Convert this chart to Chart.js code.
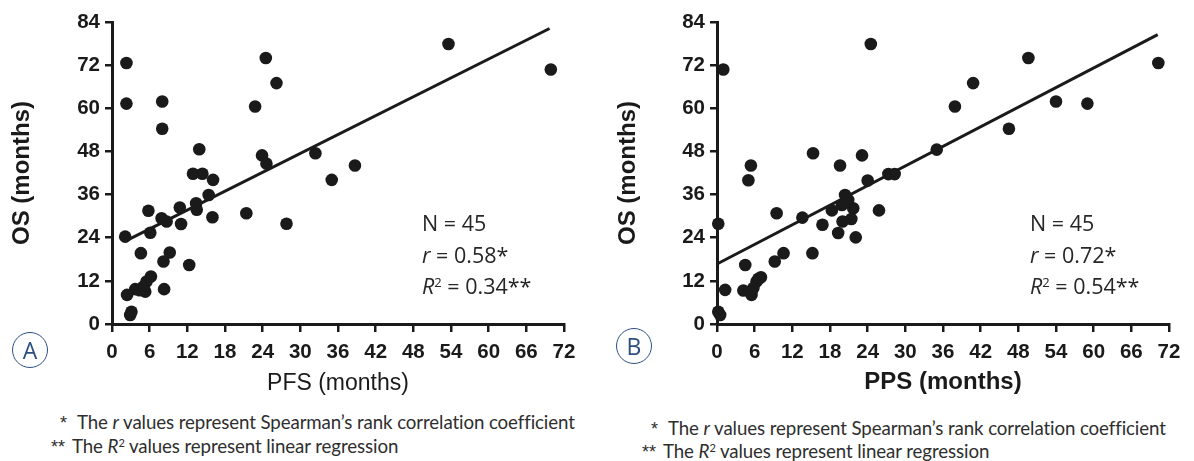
<!DOCTYPE html>
<html><head><meta charset="utf-8">
<script src="https://cdn.jsdelivr.net/npm/chart.js@4.4.1/dist/chart.umd.min.js"></script>
<style>
html,body{margin:0;padding:0;background:#fff;width:1194px;height:461px;overflow:hidden;position:relative;font-family:"Liberation Sans",Arial,sans-serif;}
canvas{position:absolute;top:0;}
#cA{left:0;} #cB{left:600px;}
.ann{position:absolute;font-family:"Open Sans",sans-serif;font-size:21.5px;color:#262626;line-height:31.5px;white-space:nowrap;}
.ann sup{font-size:13px;vertical-align:top;position:relative;top:-3px;}
.foot{position:absolute;font-family:"Lato",sans-serif;font-size:18.7px;color:#2e2e2e;white-space:nowrap;line-height:24px;letter-spacing:-0.1px;}
.foot sup{font-size:11px;vertical-align:top;position:relative;top:-3px;}
.foot .st{display:inline-block;font-family:"Liberation Sans",sans-serif;font-size:18px;color:#2e2e2e;}
.lbl{position:absolute;width:34px;height:34px;border:1.6px solid #2d4f80;border-radius:50%;color:#2d4f80;font-family:"Open Sans",sans-serif;font-size:23px;line-height:34px;text-align:center;}
</style></head>
<body>
<canvas id="cA" width="600" height="400"></canvas>
<canvas id="cB" width="594" height="400"></canvas>

<div class="ann" style="left:422px;top:207px;">N = 45<br><i>r</i> = 0.58*<br><i>R</i><sup>2</sup> = 0.34**</div>
<div class="ann" style="left:1030px;top:207px;">N = 45<br><i>r</i> = 0.72*<br><i>R</i><sup>2</sup> = 0.54**</div>

<div class="lbl" style="left:12px;top:332px;">A</div>
<div class="lbl" style="left:616px;top:328px;">B</div>

<div class="foot" style="left:60px;top:410px;"><span class="st" style="width:17px">*</span>The <i>r</i> values represent Spearman’s rank correlation coefficient</div>
<div class="foot" style="left:51px;top:434px;"><span class="st" style="width:21px">**</span>The <i>R</i><sup>2</sup> values represent linear regression</div>
<div class="foot" style="left:651px;top:416px;"><span class="st" style="width:17px">*</span>The <i>r</i> values represent Spearman’s rank correlation coefficient</div>
<div class="foot" style="left:642px;top:439px;"><span class="st" style="width:21px">**</span>The <i>R</i><sup>2</sup> values represent linear regression</div>

<script>
// ---- Panel A: PFS vs OS ----
const pfsX = [2.3, 2.3, 8.0, 8.0, 13.9, 22.8, 24.5, 26.2, 23.9, 24.6,
              12.9, 14.4, 16.1, 15.4, 13.4, 10.8, 5.8, 13.5, 21.4, 7.9,
              8.7, 16.0, 11.0, 27.8, 2.1, 6.1, 4.6, 9.2, 8.2, 12.3,
              6.2, 5.5, 5.0, 3.7, 5.3, 2.4, 8.3, 3.1, 2.9, 53.6,
              69.9, 32.4, 38.7, 35.0, 4.4];
const pfsOS = [72.6, 61.3, 61.9, 54.3, 48.6, 60.5, 74.0, 67.0, 46.9, 44.6,
               41.8, 41.8, 40.1, 35.9, 33.6, 32.4, 31.5, 31.8, 30.8, 29.4,
               28.5, 29.7, 27.8, 27.9, 24.3, 25.4, 19.7, 19.9, 17.4, 16.4,
               13.2, 11.8, 10.4, 9.7, 9.0, 8.1, 9.7, 3.4, 2.5, 77.9,
               70.8, 47.5, 44.1, 40.1, 9.4];
const pfsFitX = [2.2, 69.7];
const pfsFitY = [23.1, 82.2];

// ---- Panel B: PPS vs OS ----
const ppsX = [1.0, 24.5, 15.3, 23.1, 19.6, 5.4, 5.0, 24.0, 27.3, 28.3,
              20.4, 19.9, 21.7, 18.3, 25.8, 9.5, 13.6, 21.4, 20.0, 16.8,
              19.3, 22.1, 0.2, 10.6, 9.2, 15.2, 4.5, 7.0, 6.3, 1.3,
              4.2, 5.5, 5.8, 0.2, 0.5, 49.6, 40.8, 37.9, 54.0, 59.0,
              70.3, 46.5, 35.0, 6.6, 20.9];
const ppsOS = [70.8, 77.9, 47.5, 46.9, 44.1, 44.1, 40.0, 39.9, 41.7, 41.7,
               35.9, 33.1, 32.2, 31.6, 31.6, 30.8, 29.6, 29.2, 28.5, 27.6,
               25.3, 24.1, 27.9, 19.7, 17.4, 19.7, 16.4, 13.0, 11.8, 9.5,
               9.3, 8.1, 10.0, 3.4, 2.5, 74.0, 67.0, 60.5, 61.9, 61.3,
               72.6, 54.3, 48.5, 12.6, 34.5];
const ppsFitX = [0, 70.2];
const ppsFitY = [16.7, 80.5];

const xTicks = [0, 6, 12, 18, 24, 30, 36, 42, 48, 54, 60, 66, 72];
const yTicks = [0, 12, 24, 36, 48, 60, 72, 84];

function pts(xs, ys){ return xs.map((x,i)=>({x:x, y:ys[i]})); }

function makeChart(id, xs, ys, fx, fy, xTitle, xBold, yAxisW, yTitlePad, padRight){
  new Chart(document.getElementById(id), {
    type: 'scatter',
    data: {
      datasets: [
        { data: pts(xs, ys), backgroundColor: '#1a1a1a', borderColor: '#1a1a1a',
          pointRadius: 6.3, pointHoverRadius: 6.3, borderWidth: 0, clip: false, order: 1 },
        { type: 'line', data: pts(fx, fy), borderColor: '#1a1a1a', borderWidth: 3,
          pointRadius: 0, fill: false, clip: false, order: 2 }
      ]
    },
    options: {
      responsive: false, animation: false, devicePixelRatio: 1,
      layout: { padding: { top: 22, right: padRight, bottom: 0, left: 0 } },
      plugins: { legend: { display: false }, tooltip: { enabled: false } },
      scales: {
        x: {
          type: 'linear', min: 0, max: 72,
          afterBuildTicks: s => { s.ticks = xTicks.map(v => ({value: v})); },
          afterFit: s => { s.height = 76; },
          ticks: { color: '#1a1a1a', font: { family: 'Liberation Sans', size: 20.5, weight: 'bold' }, padding: 8, maxRotation: 0, autoSkip: false },
          grid: { drawOnChartArea: false, drawTicks: true, tickLength: 8, color: '#1a1a1a', lineWidth: 2.5 },
          border: { color: '#1a1a1a', width: 3 },
          title: { display: true, text: xTitle, color: '#1a1a1a',
                   font: { family: 'Liberation Sans', size: xBold ? 24 : 23, weight: xBold ? 'bold' : 'normal' },
                   padding: { top: 0, bottom: 3 } }
        },
        y: {
          type: 'linear', min: 0, max: 84,
          afterBuildTicks: s => { s.ticks = yTicks.map(v => ({value: v})); },
          afterFit: s => { s.width = yAxisW; },
          ticks: { color: '#1a1a1a', font: { family: 'Liberation Sans', size: 20.5, weight: 'bold' }, padding: 5, autoSkip: false },
          grid: { drawOnChartArea: false, drawTicks: true, tickLength: 7, color: '#1a1a1a', lineWidth: 2.5 },
          border: { color: '#1a1a1a', width: 3 },
          title: { display: true, text: 'OS (months)', color: '#1a1a1a',
                   font: { family: 'Liberation Sans', size: 24, weight: 'bold' },
                   padding: { top: yTitlePad, bottom: 0 } }
        }
      }
    }
  });
}

makeChart('cA', pfsX, pfsOS, pfsFitX, pfsFitY, 'PFS (months)', false, 112, 8, 36);
makeChart('cB', ppsX, ppsOS, ppsFitX, ppsFitY, 'PPS (months)', true, 117, 14, 25);
</script>
</body></html>
